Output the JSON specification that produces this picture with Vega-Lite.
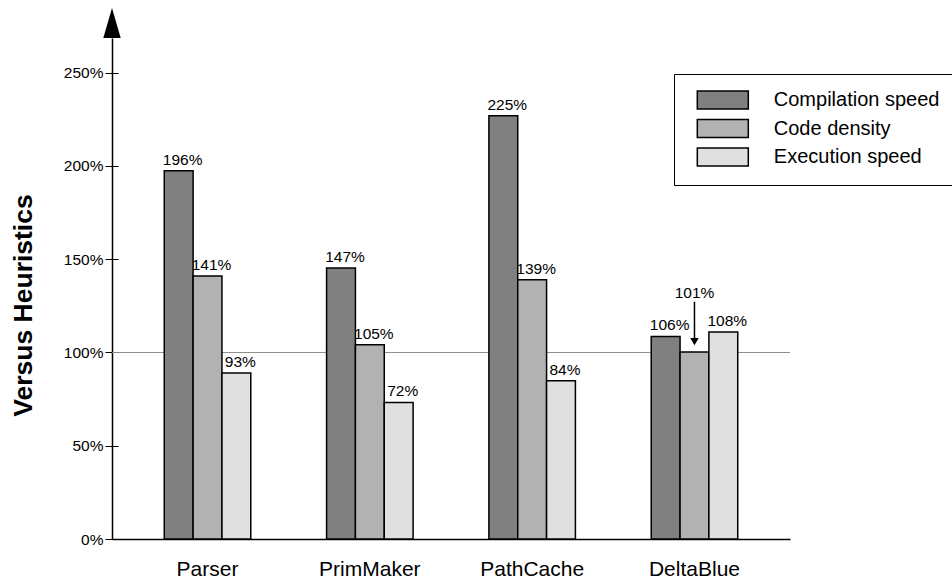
{
  "$schema": "https://vega.github.io/schema/vega-lite/v6.json",
  "width": 678,
  "height": 501,
  "autosize": {"type": "none"},
  "padding": {"left": 112, "top": 38, "right": 162, "bottom": 39},
  "background": "white",
  "config": {
    "view": {"stroke": null},
    "font": "Liberation Sans",
    "axis": {"grid": false}
  },
  "datasets": {
    "bars": [
      {"bench": "Parser", "metric": "Compilation speed", "value": 197.4, "label": "196%"},
      {"bench": "Parser", "metric": "Code density", "value": 141.0, "label": "141%"},
      {"bench": "Parser", "metric": "Execution speed", "value": 89.0, "label": "93%"},
      {"bench": "PrimMaker", "metric": "Compilation speed", "value": 145.3, "label": "147%"},
      {"bench": "PrimMaker", "metric": "Code density", "value": 104.2, "label": "105%"},
      {"bench": "PrimMaker", "metric": "Execution speed", "value": 73.2, "label": "72%"},
      {"bench": "PathCache", "metric": "Compilation speed", "value": 226.9, "label": "225%"},
      {"bench": "PathCache", "metric": "Code density", "value": 139.0, "label": "139%"},
      {"bench": "PathCache", "metric": "Execution speed", "value": 84.9, "label": "84%"},
      {"bench": "DeltaBlue", "metric": "Compilation speed", "value": 108.6, "label": "106%"},
      {"bench": "DeltaBlue", "metric": "Code density", "value": 100.3, "label": "101%"},
      {"bench": "DeltaBlue", "metric": "Execution speed", "value": 111.0, "label": "108%"}
    ],
    "note": [
      {"bench": "DeltaBlue", "metric": "Code density", "label": "101%", "textY": 129.4, "lineTop": 127.2, "lineBottom": 107.0, "head": 105.8}
    ],
    "arrow": [{"tip": 276.6}],
    "ref": [{"level": 100}]
  },
  "layer": [
    {
      "layer": [
        {
          "data": {"name": "ref"},
          "mark": {"type": "rule", "color": "#8c8c8c", "strokeWidth": 1},
          "encoding": {
            "y": {"field": "level", "type": "quantitative", "title": "Versus Heuristics"}
          }
        },
        {
          "data": {"name": "bars"},
          "mark": {"type": "bar", "stroke": "black", "strokeWidth": 1.5},
          "encoding": {
            "x": {
              "field": "bench", "type": "nominal",
              "sort": ["Parser", "PrimMaker", "PathCache", "DeltaBlue"],
              "scale": {"paddingInner": 0.467, "paddingOuter": 0.322},
              "axis": {
                "title": null, "ticks": false, "domainColor": "black", "domainWidth": 1.5,
                "labelFontSize": 21, "labelColor": "black", "labelPadding": 36,
                "labelBaseline": "alphabetic", "labelAngle": 0
              }
            },
            "xOffset": {
              "field": "metric", "type": "nominal",
              "sort": ["Compilation speed", "Code density", "Execution speed"],
              "scale": {"paddingInner": 0, "paddingOuter": 0}
            },
            "y": {
              "field": "value", "type": "quantitative", "title": "Versus Heuristics",
              "scale": {"domain": [0, 268.6], "nice": false},
              "axis": {
                "values": [0, 50, 100, 150, 200, 250],
                "labelExpr": "datum.value + '%'",
                "tickSize": 7, "tickWidth": 1, "tickColor": "black",
                "domainColor": "black", "domainWidth": 1.5,
                "labelFontSize": 15.5, "labelColor": "black", "labelPadding": 2,
                "titleFontSize": 26.5, "titleFontWeight": "bold", "titleColor": "black",
                "titleX": -89, "titleY": 267, "titleBaseline": "middle", "titleAngle": -90, "titleAlign": "center",
                "grid": false
              }
            },
            "color": {
              "field": "metric", "type": "nominal",
              "sort": ["Compilation speed", "Code density", "Execution speed"],
              "scale": {"domain": ["Compilation speed", "Code density", "Execution speed"], "range": ["#808080", "#b2b2b2", "#e0e0e0"]},
              "legend": {
                "orient": "none", "legendX": 562, "legendY": 36, "title": null,
                "padding": 16, "strokeColor": "black", "fillColor": "white",
                "symbolType": "M-2.833,-1H2.833V1H-2.833Z", "symbolSize": 324,
                "symbolStrokeColor": "black", "symbolStrokeWidth": 1.5, "symbolOpacity": 1,
                "symbolOffset": 22.8, "labelOffset": 41,
                "labelFontSize": 20, "labelLimit": 400, "labelColor": "black",
                "rowPadding": 4.5
              }
            }
          }
        },
        {
          "data": {"name": "bars"},
          "transform": [{"filter": "!(datum.bench == 'DeltaBlue' && datum.metric == 'Code density')"}],
          "mark": {"type": "text", "baseline": "alphabetic", "align": "center", "dy": -6, "dx": 4, "fontSize": 15.5, "color": "black"},
          "encoding": {
            "x": {"field": "bench", "type": "nominal", "sort": ["Parser", "PrimMaker", "PathCache", "DeltaBlue"]},
            "xOffset": {"field": "metric", "type": "nominal", "sort": ["Compilation speed", "Code density", "Execution speed"]},
            "y": {"field": "value", "type": "quantitative", "title": "Versus Heuristics"},
            "text": {"field": "label"}
          }
        },
        {
          "data": {"name": "note"},
          "mark": {"type": "text", "baseline": "alphabetic", "align": "center", "fontSize": 15.5, "color": "black"},
          "encoding": {
            "x": {"field": "bench", "type": "nominal", "sort": ["Parser", "PrimMaker", "PathCache", "DeltaBlue"]},
            "xOffset": {"field": "metric", "type": "nominal", "sort": ["Compilation speed", "Code density", "Execution speed"]},
            "y": {"field": "textY", "type": "quantitative", "title": "Versus Heuristics"},
            "text": {"field": "label"}
          }
        },
        {
          "data": {"name": "note"},
          "mark": {"type": "rule", "color": "black", "strokeWidth": 1.5},
          "encoding": {
            "x": {"field": "bench", "type": "nominal", "sort": ["Parser", "PrimMaker", "PathCache", "DeltaBlue"]},
            "xOffset": {"field": "metric", "type": "nominal", "sort": ["Compilation speed", "Code density", "Execution speed"]},
            "y": {"field": "lineTop", "type": "quantitative", "title": "Versus Heuristics"},
            "y2": {"field": "lineBottom"}
          }
        },
        {
          "data": {"name": "note"},
          "mark": {"type": "point", "shape": "triangle-down", "size": 72, "filled": true, "color": "black", "opacity": 1},
          "encoding": {
            "x": {"field": "bench", "type": "nominal", "sort": ["Parser", "PrimMaker", "PathCache", "DeltaBlue"]},
            "xOffset": {"field": "metric", "type": "nominal", "sort": ["Compilation speed", "Code density", "Execution speed"]},
            "y": {"field": "head", "type": "quantitative", "title": "Versus Heuristics"}
          }
        }
      ]
    },
    {
      "data": {"name": "arrow"},
      "mark": {"type": "point", "shape": "M0,-1L0.58,1L-0.58,1Z", "size": 900, "filled": true, "color": "black", "opacity": 1, "strokeWidth": 0},
      "encoding": {
        "x": {"datum": 0, "type": "quantitative", "scale": {"domain": [0, 1]}, "axis": null},
        "y": {
          "field": "tip", "type": "quantitative",
          "scale": {"domain": [0, 268.6], "nice": false},
          "axis": {
            "orient": "left", "values": [0, 50, 100, 150, 200, 250],
            "tickSize": -6, "tickWidth": 1, "tickColor": "black",
            "labels": false, "domain": false, "title": null, "grid": false
          }
        }
      }
    }
  ],
  "resolve": {"scale": {"x": "independent"}, "axis": {"y": "independent"}}
}
